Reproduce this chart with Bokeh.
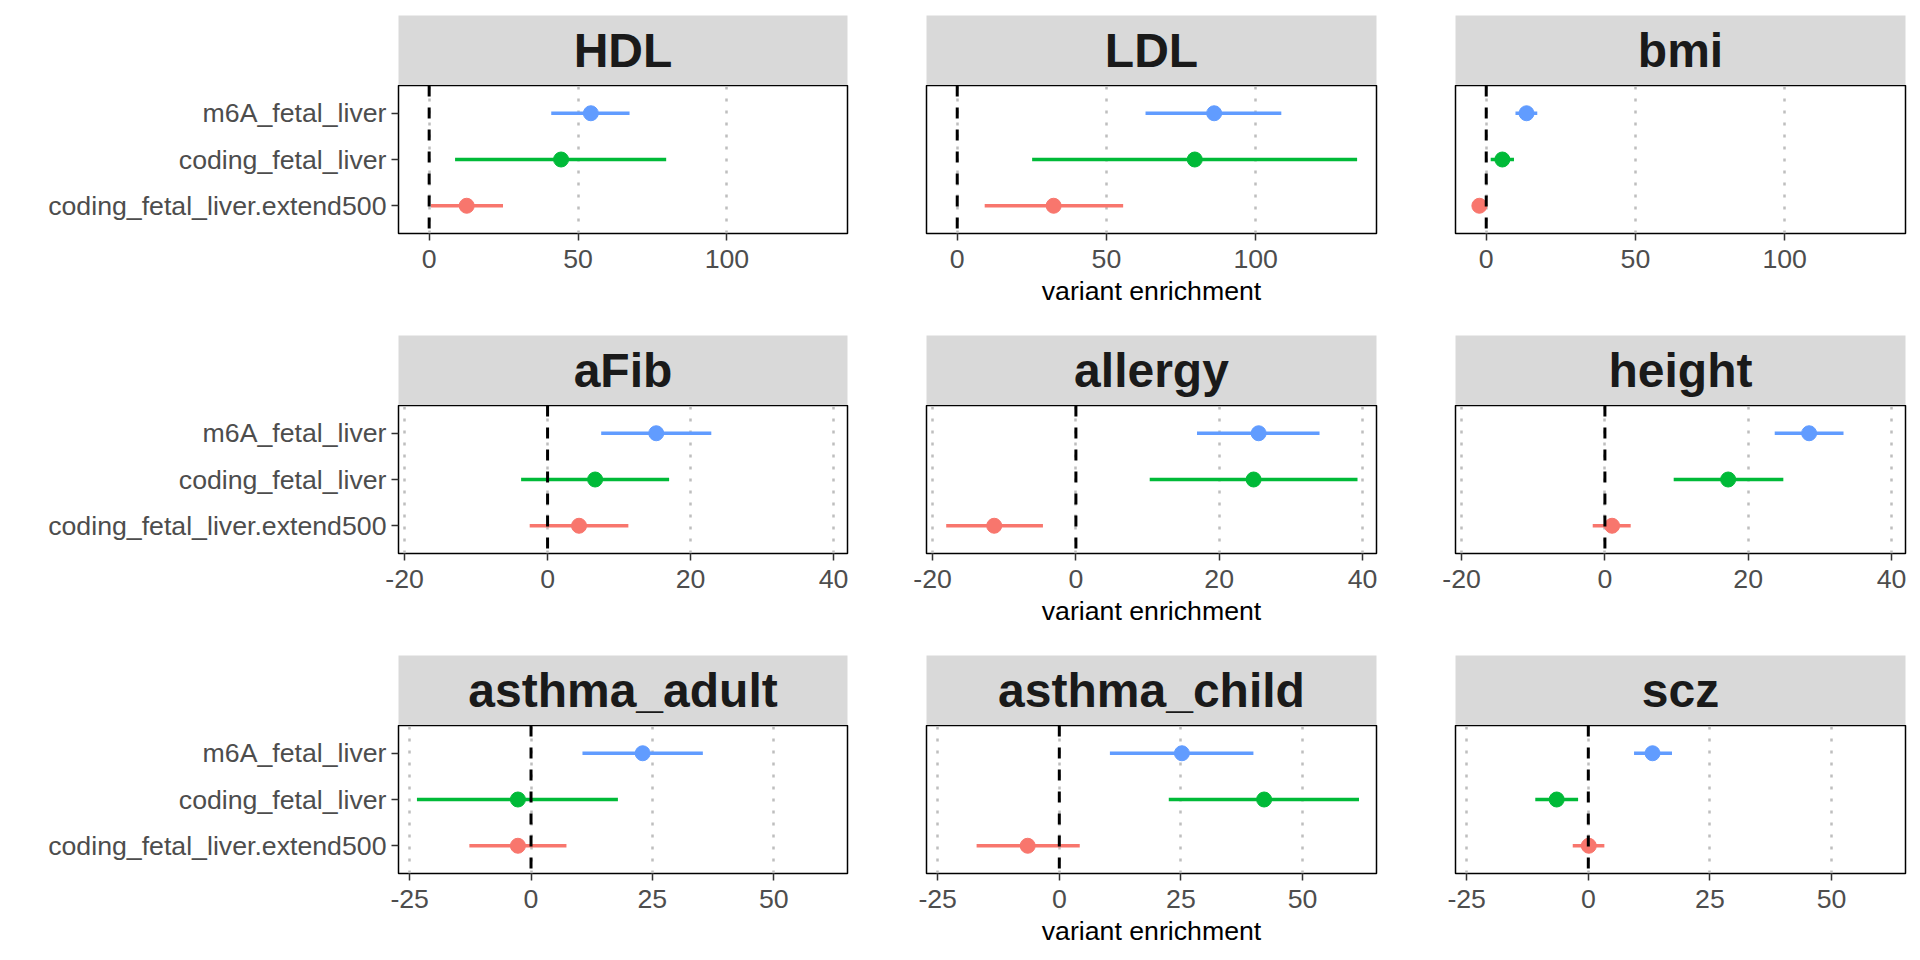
from bokeh.plotting import figure
from bokeh.layouts import row, column
from bokeh.models import Range1d, FactorRange, FixedTicker, Span, ColumnDataSource
from bokeh.embed import file_html
from bokeh.resources import INLINE
from bokeh.core.properties import value

# ---------------- data ----------------
traits = ["HDL", "LDL", "bmi", "aFib", "allergy", "height",
          "asthma_adult", "asthma_child", "scz"]
categories = ["m6A_fetal_liver", "coding_fetal_liver", "coding_fetal_liver.extend500"]

m6A_est = [54.3, 86.1, 13.5, 15.2, 25.5, 28.5, 23.0, 25.2, 13.2]
m6A_lo = [41.0, 63.1, 9.8, 7.5, 16.9, 23.7, 10.6, 10.4, 9.4]
m6A_hi = [67.3, 108.6, 17.1, 22.9, 34.0, 33.3, 35.4, 39.9, 17.2]

coding_est = [44.3, 79.6, 5.4, 6.65, 24.8, 17.2, -2.7, 42.1, -6.5]
coding_lo = [8.7, 25.1, 1.5, -3.7, 10.3, 9.6, -23.5, 22.5, -10.9]
coding_hi = [79.6, 134.0, 9.3, 17.0, 39.3, 24.9, 17.9, 61.6, -2.1]

ext_est = [12.6, 32.3, -2.3, 4.4, -11.4, 1.0, -2.7, -6.5, 0.1]
ext_lo = [0.6, 9.2, -3.0, -2.5, -18.1, -1.7, -12.7, -17.0, -3.2]
ext_hi = [24.8, 55.6, -1.6, 11.3, -4.6, 3.6, 7.3, 4.2, 3.3]

row_ticks = [[0, 50, 100], [-20, 0, 20, 40], [-25, 0, 25, 50]]
row_limits = [(-10.3, 140.5), (-20.85, 41.95), (-27.3, 65.2)]
x_title = "variant enrichment"

# ---------------- style ----------------
colors = ["#619CFF", "#00BA38", "#F8766D"]
FONT = "Liberation Sans"
LABEL_SIZE = "26.7px"
col_left = [398, 40, 40]
col_width = [449, 450, 450]
col_right = [39, 39, 7]
strip_top = [15, 0, 0]
bottom_border = [102, 102, 76]
FRAME_H = 148
STRIP_H = 70

rows = []
for r in range(3):
    cells = []
    for c in range(3):
        i = r * 3 + c
        # strip
        s = figure(x_range=Range1d(0, 1), y_range=Range1d(0, 1),
                   frame_width=col_width[c], frame_height=STRIP_H,
                   min_border_left=col_left[c], min_border_right=col_right[c],
                   min_border_top=strip_top[r], min_border_bottom=0,
                   x_axis_location=None, y_axis_location=None,
                   toolbar_location=None, output_backend="svg",
                   background_fill_color="#D9D9D9", border_fill_color="white",
                   outline_line_color=None)
        s.xgrid.visible = False
        s.ygrid.visible = False
        s.text(x=[0.5], y=[0.5], text=[traits[i]], text_align="center",
               text_baseline="middle", text_font=value(FONT),
               text_font_size="48px", text_font_style="bold", text_color="#1A1A1A")

        src = ColumnDataSource(dict(
            cat=categories,
            est=[m6A_est[i], coding_est[i], ext_est[i]],
            lo=[m6A_lo[i], coding_lo[i], ext_lo[i]],
            hi=[m6A_hi[i], coding_hi[i], ext_hi[i]],
            color=colors,
        ))
        lo_x, hi_x = row_limits[r]
        p = figure(x_range=Range1d(lo_x, hi_x),
                   y_range=FactorRange(factors=categories[::-1], range_padding=0.2 / 3),
                   frame_width=col_width[c], frame_height=FRAME_H,
                   min_border_left=col_left[c], min_border_right=col_right[c],
                   min_border_top=0, min_border_bottom=bottom_border[r],
                   y_axis_location="left" if c == 0 else None,
                   toolbar_location=None, output_backend="svg",
                   background_fill_color="white", border_fill_color="white",
                   outline_line_color="black", outline_line_width=1.5)
        p.xaxis.ticker = FixedTicker(ticks=row_ticks[r])
        p.xaxis.major_label_overrides = {t: str(t) for t in row_ticks[r]}
        p.xgrid.ticker = FixedTicker(ticks=row_ticks[r])
        p.xgrid.grid_line_color = "#BEBEBE"
        p.xgrid.grid_line_width = 2.5
        p.xgrid.grid_line_dash = "3 9"
        p.ygrid.visible = False
        for ax in p.axis:
            ax.axis_line_color = None
            ax.major_tick_line_color = "#333333"
            ax.major_tick_line_width = 1.5
            ax.major_tick_out = 7
            ax.major_tick_in = 0
            ax.minor_tick_line_color = None
            ax.major_label_text_font = FONT
            ax.major_label_text_font_size = LABEL_SIZE
            ax.major_label_text_color = "#4D4D4D"
        p.xaxis.major_label_standoff = 9
        if c == 0:
            p.yaxis.major_label_standoff = 5
        if c == 1:
            p.xaxis.axis_label = x_title
            p.xaxis.axis_label_text_font = FONT
            p.xaxis.axis_label_text_font_size = LABEL_SIZE
            p.xaxis.axis_label_text_font_style = "normal"
            p.xaxis.axis_label_text_color = "black"
            p.xaxis.axis_label_standoff = 5

        p.segment(x0="lo", y0="cat", x1="hi", y1="cat", source=src,
                  line_color="color", line_width=3.5)
        p.scatter(x="est", y="cat", source=src, size=15,
                  fill_color="color", line_color="color")
        p.add_layout(Span(location=0, dimension="height", line_color="black",
                          line_width=3, line_dash="11 11"))
        cells.append(column(s, p, spacing=0))
    rows.append(row(*cells, spacing=0))

layout = column(*rows, spacing=0)
open("out.html", "w").write(file_html(layout, INLINE))
